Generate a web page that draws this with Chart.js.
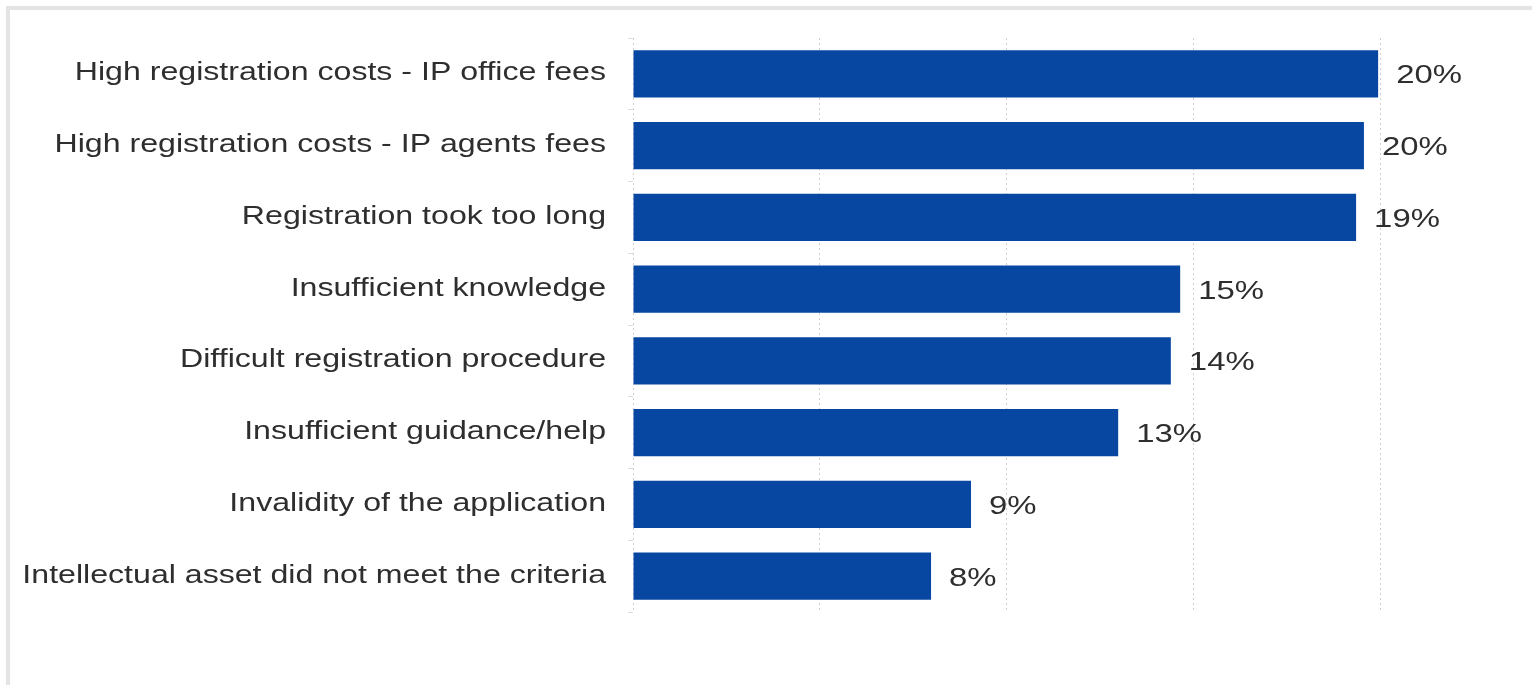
<!DOCTYPE html>
<html>
<head>
<meta charset="utf-8">
<script src="https://cdn.jsdelivr.net/npm/chart.js@4"></script>
<style>
  html, body { margin: 0; padding: 0; background: #ffffff; }
  #wrap { width: 1532px; height: 685px; position: relative; }
</style>
</head>
<body>
<div id="wrap"><canvas id="c" width="1532" height="685"></canvas></div>
<script>
const categories = [
  'High registration costs - IP office fees',
  'High registration costs - IP agents fees',
  'Registration took too long',
  'Insufficient knowledge',
  'Difficult registration procedure',
  'Insufficient guidance/help',
  'Invalidity of the application',
  'Intellectual asset did not meet the criteria'
];
const shares = [19.95, 19.57, 19.36, 14.65, 14.4, 12.99, 9.05, 7.98];
const valueLabels = ['20%', '20%', '19%', '15%', '14%', '13%', '9%', '8%'];
const xTicks = [0, 5, 10, 15, 20];

const FONT = '"Liberation Sans", Arial, sans-serif';
const LABEL_STRETCH = 1.235;
const VALUE_STRETCH = 1.265;

const framePlugin = {
  id: 'frame',
  beforeDraw(chart) {
    const ctx = chart.ctx;
    ctx.save();
    ctx.strokeStyle = '#e4e4e4';
    ctx.lineWidth = 4;
    ctx.beginPath();
    ctx.moveTo(8, chart.height + 5);
    ctx.lineTo(8, 8);
    ctx.lineTo(chart.width + 5, 8);
    ctx.stroke();
    ctx.restore();
  }
};

// Category labels and value labels, positioned through the chart's scales,
// drawn slightly widened to match the reference's horizontally stretched text.
const textPlugin = {
  id: 'stretchedText',
  afterDatasetsDraw(chart) {
    const ctx = chart.ctx;
    const yScale = chart.scales.y;
    const meta = chart.getDatasetMeta(0);
    ctx.save();
    ctx.font = '26px ' + FONT;
    ctx.fillStyle = '#2e2e2e';
    ctx.textBaseline = 'alphabetic';
    categories.forEach((label, i) => {
      const y = yScale.getPixelForTick(i);
      ctx.save();
      ctx.translate(chart.chartArea.left - 27, y + 6.5);
      ctx.scale(LABEL_STRETCH, 1);
      ctx.textAlign = 'right';
      ctx.fillText(label, 0, 0);
      ctx.restore();
    });
    meta.data.forEach((bar, i) => {
      ctx.save();
      ctx.translate(bar.x + 18, bar.y + 9.5);
      ctx.scale(VALUE_STRETCH, 1);
      ctx.textAlign = 'left';
      ctx.fillText(valueLabels[i], 0, 0);
      ctx.restore();
    });
    ctx.restore();
  }
};

new Chart(document.getElementById('c'), {
  type: 'bar',
  data: {
    labels: categories,
    datasets: [{
      data: shares,
      backgroundColor: '#0747a1',
      borderWidth: 0,
      barPercentage: 0.66,
      categoryPercentage: 1.0
    }]
  },
  options: {
    indexAxis: 'y',
    responsive: false,
    animation: false,
    layout: { padding: { left: 0, right: 152, top: 38, bottom: 73 } },
    plugins: {
      legend: { display: false },
      tooltip: { enabled: false }
    },
    scales: {
      x: {
        min: 0,
        max: 20,
        afterBuildTicks(scale) { scale.ticks = xTicks.map(v => ({ value: v })); },
        afterFit(scale) { scale.height = 0; },
        ticks: { display: false },
        grid: {
          color: '#cfcfcf',
          lineWidth: 1,
          drawTicks: false
        },
        border: { display: false, dash: [2, 3] }
      },
      y: {
        afterFit(scale) { scale.width = 633; },
        border: { display: false },
        grid: {
          drawOnChartArea: false,
          drawTicks: true,
          tickLength: 5,
          color: '#dddddd',
          offset: true
        },
        ticks: { display: false }
      }
    }
  },
  plugins: [framePlugin, textPlugin]
});
</script>
</body>
</html>
